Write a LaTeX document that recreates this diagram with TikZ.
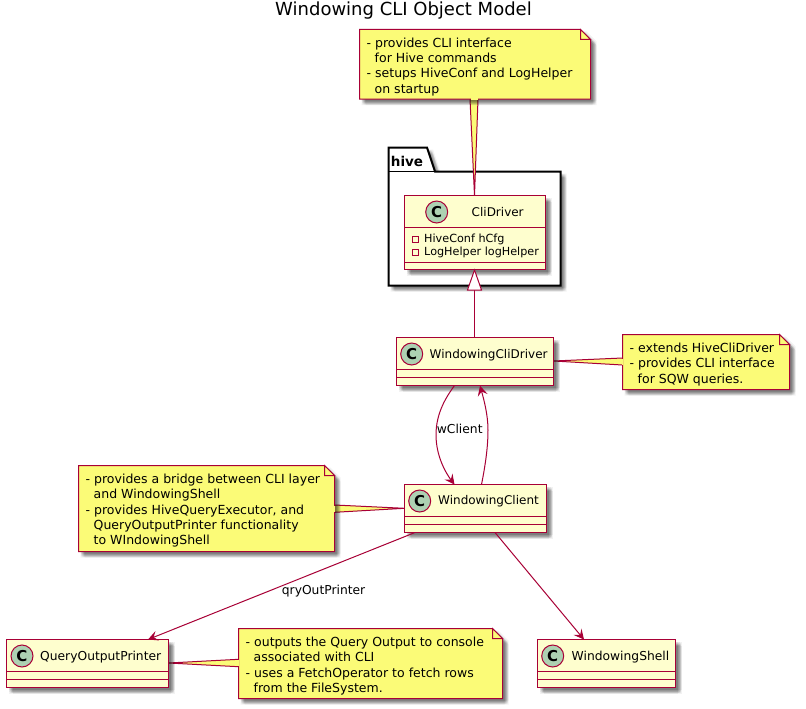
\documentclass[tikz,border=0pt]{standalone}
\usepackage{fontspec}
\setmainfont{DejaVu Sans}
\usetikzlibrary{arrows.meta,calc}
\definecolor{umlred}{HTML}{A80036}
\definecolor{umlfill}{HTML}{FEFECE}
\definecolor{notefill}{HTML}{FBFB77}
\definecolor{circfill}{HTML}{ADD1B2}
\tikzset{
  x=1pt,y=-1pt,
  shl/.style 2 args={preaction={fill=black,fill opacity=.05,draw=none,transform canvas={shift={(#1pt,-#2pt)}}}},
  shad/.style={shl={2}{2},shl={2}{6},shl={6}{2},shl={6}{6},shl={3}{3},shl={3}{5},shl={5}{3},shl={5}{5},shl={4}{4},shl={4}{2.5},shl={2.5}{4},shl={4}{5.5},shl={5.5}{4}},
  classbody/.style={draw=umlred,line width=1.5pt,fill=umlfill,shad},
  classsep/.style={draw=umlred,line width=1.3pt},
  notebody/.style={draw=umlred,line width=1pt,fill=notefill,shad},
  notefold/.style={draw=umlred,line width=1pt,fill=notefill},
  assoc/.style={draw=umlred,line width=1pt},
  arr/.style={assoc,-{Stealth[length=10pt,width=10pt,inset=4pt,fill=umlred]}},
  cname/.style={font=\fontsize{12}{15}\selectfont,text=black,anchor=west,inner sep=0pt},
  cnamewide/.style={font=\fontsize{12.3}{15}\selectfont,text=black,anchor=west,inner sep=0pt},
  circ/.style={circle,draw=umlred,line width=1pt,fill=circfill,minimum size=22pt,inner sep=0pt,font=\fontsize{15}{15}\selectfont\bfseries},
  notetext/.style={font=\fontsize{12.5}{15.4}\selectfont,text=black,anchor=north west,inner sep=0pt,align=left},
  lbl/.style={font=\fontsize{12.3}{15}\selectfont,text=black,inner sep=0pt,anchor=west},
}
\newcommand{\umlnote}[6]{% name, x1,y1,x2,y2, text
  \path[notebody] (#2,#3) -- (#4-10,#3) -- (#4,#3+10) -- (#4,#5) -- (#2,#5) -- cycle;
  \draw[notefold] (#4-10,#3) -- (#4-10,#3+10) -- (#4,#3+10) -- cycle;
  \coordinate (#1) at (#2,#3);
  \node[notetext] at (#2+7,#3+8) {#6};
}
\newcommand{\umlclass}[8]{% name,x1,y1,x2,y2,sep1,sep2,cx
  \path[classbody] (#2,#3) rectangle (#4,#5);
  \draw[classsep] (#2,#6) -- (#4,#6) (#2,#7) -- (#4,#7);
  \coordinate (#1) at (#2,#3);
  \node[circ] at (#8,#3+16.5) {C};
}
\begin{document}
\begin{tikzpicture}
\useasboundingbox (0,0) rectangle (806,709);
\fill[white] (0,0) rectangle (806,709);
\node[font=\fontsize{18}{20}\selectfont,inner sep=0pt] (title) at (403.5,11) {Windowing CLI Object Model};

% hive package
\path[draw=black,line width=2pt,fill=white,shad] (388.5,171.5) -- (388.5,147.5) -- (427,147.5) -- (435,171.5) -- (560.5,171.5) -- (560.5,285.5) -- (388.5,285.5) -- cycle;
\draw[black,line width=1.4pt] (388.5,171.5) -- (435,171.5);
\node[font=\fontsize{13.5}{14}\selectfont\bfseries,inner sep=0pt,anchor=west] (hivelabel) at (390.7,161) {hive};

% note wedges
\coordinate (cdtop) at (474.5,195.5);
\coordinate (wcdright) at (553.5,361);
\coordinate (wcleft) at (404.5,508.3);
\coordinate (qopright) at (168.5,663);
\fill[notefill] (470,99) -- (cdtop) -- (478,99) -- cycle;
\draw[assoc] (470,99) -- (cdtop) -- (478,99);

% notes
\umlnote{n1}{359.5}{29.5}{590.5}{99}{- provides CLI interface\\\hspace*{8pt}for Hive commands\\- setups HiveConf and LogHelper\\\hspace*{8pt}on startup}
\fill[notefill] (470.5,98) rectangle (477.5,100);

% CliDriver
\umlclass{cd}{404.5}{195.5}{545.5}{269.5}{227.5}{262.5}{436.7}
\node[cname] (cdname) at (471.5,212.5) {CliDriver};
\node[font=\fontsize{11.2}{13}\selectfont,inner sep=0pt,anchor=west] (f1) at (424,239) {HiveConf hCfg};
\node[font=\fontsize{11.2}{13}\selectfont,inner sep=0pt,anchor=west] (f2) at (424,252.3) {LogHelper logHelper};
\draw[umlred,line width=1pt] (412.5,236.5) rectangle (418.5,242.5);
\draw[umlred,line width=1pt] (412.5,249.5) rectangle (418.5,255.5);

% inheritance
\coordinate (wcdtop) at (474.5,337.5);
\draw[assoc] (474.5,290) -- (wcdtop);
\draw[assoc,fill=white] (474.5,270) -- (467.5,290) -- (481.5,290) -- cycle;

% WindowingCliDriver
\fill[notefill] (wcdright) -- (622.5,358) -- (622.5,365) -- cycle;
\draw[assoc] (622.5,358) -- (wcdright) -- (622.5,365);
\umlnote{n2}{622.5}{334.5}{789.5}{389.5}{- extends HiveCliDriver\\- provides CLI interface\\\hspace*{8pt}for SQW queries.}
\fill[notefill] (622,358.5) rectangle (623.2,364.5);
\umlclass{wcd}{396.5}{337.5}{553.5}{385.5}{369.5}{377.5}{411.7}
\node[cname] (wcdname) at (429.5,355) {WindowingCliDriver};

% WindowingClient
\fill[notefill] (334.5,505) -- (wcleft) -- (334.5,512.3) -- cycle;
\draw[assoc] (334.5,505) -- (wcleft) -- (334.5,512.3);
\umlnote{n3}{78.5}{465.5}{334.5}{551.5}{- provides a bridge between CLI layer\\\hspace*{8pt}and WindowingShell\\- provides HiveQueryExecutor, and\\\hspace*{8pt}QueryOutputPrinter functionality\\\hspace*{8pt}to WIndowingShell}
\fill[notefill] (334,505.5) rectangle (335.2,511.8);
\umlclass{wc}{404.5}{484.5}{546.5}{532.5}{516.5}{524.5}{419.7}
\node[cname] (wcname) at (438,501.5) {WindowingClient};

% QueryOutputPrinter
\fill[notefill] (qopright) -- (238.5,659.3) -- (238.5,666.7) -- cycle;
\draw[assoc] (238.5,659.3) -- (qopright) -- (238.5,666.7);
\umlnote{n4}{238.5}{628.5}{502.5}{698.5}{- outputs the Query Output to console\\\hspace*{8pt}associated with CLI\\- uses a FetchOperator to fetch rows\\\hspace*{8pt}from the FileSystem.}
\fill[notefill] (238,659.8) rectangle (239.2,666.2);
\umlclass{qop}{6.5}{639.5}{168.5}{687.5}{671.5}{679.5}{22}
\node[cnamewide] (qopname) at (40,657) {QueryOutputPrinter};

% WindowingShell
\umlclass{ws}{537.5}{639.5}{675.5}{687.5}{671.5}{679.5}{552.7}
\node[cnamewide] (wsname) at (571.5,657) {WindowingShell};

% associations
\coordinate (a1) at (454.5,385.5);
\coordinate (a2) at (454.5,484.5);
\coordinate (b1) at (481.5,484.5);
\coordinate (b2) at (480,385.7);
\coordinate (c1) at (415,532.5);
\coordinate (c2) at (148,639.5);
\coordinate (d1) at (495,532.5);
\coordinate (d2) at (584,639.5);
\draw[arr] (a1) .. controls (447,396) and (436,412) .. (436,435) .. controls (436,455) and (445,472) .. (a2);
\draw[arr] (b1) .. controls (486,462) and (488,445) .. (488,430) .. controls (488,415) and (484,400) .. (b2);
\draw[arr] (c1) -- (c2);
\draw[arr] (d1) -- (d2);
\node[lbl] (l1) at (436.7,428.5) {wClient};
\node[lbl] (l2) at (281.7,591) {qryOutPrinter};
\end{tikzpicture}
\end{document}
